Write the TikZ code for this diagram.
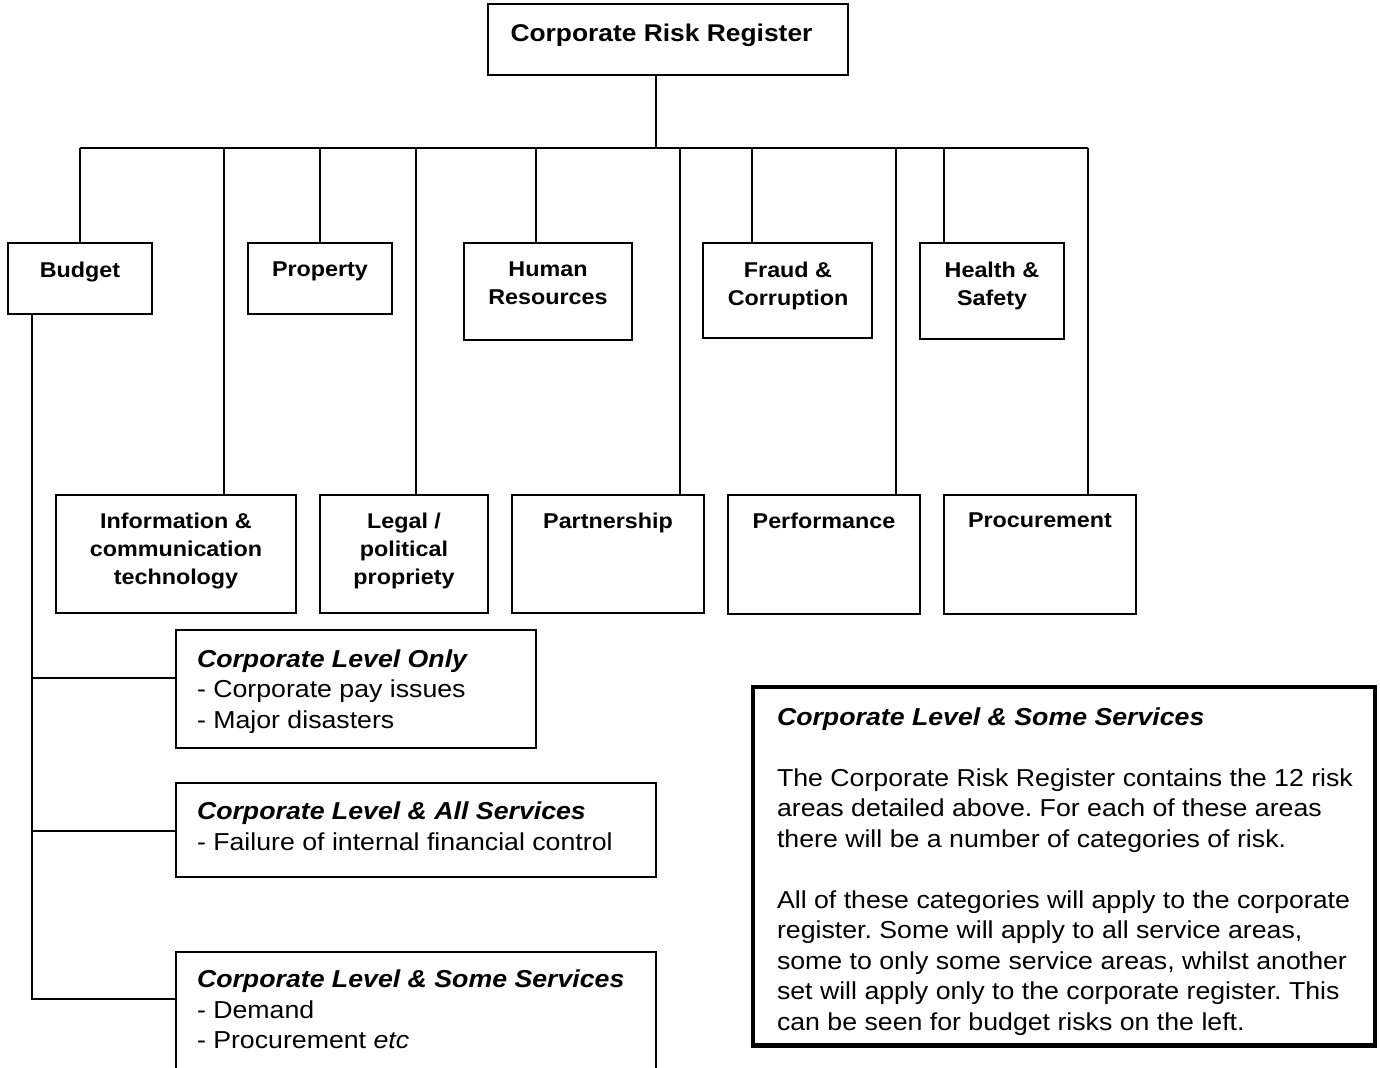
\documentclass[tikz,border=0pt]{standalone}
\usepackage{fontspec}
\setmainfont{Liberation Sans}[FakeStretch=1.09]
\usetikzlibrary{fit}
\frenchspacing

\begin{document}
\begin{tikzpicture}[x=0.5pt,y=-0.5pt,
  line width=1pt,
  box/.style={draw, rectangle, inner sep=0pt, line width=1pt},
  notebox/.style={draw, rectangle, inner sep=0pt, line width=2.2pt},
  lab/.style={font=\fontsize{10.7}{13.9}\selectfont\bfseries, align=center, inner sep=0pt, anchor=north},
  title/.style={font=\fontsize{12.1}{15}\selectfont\bfseries, inner sep=0pt, anchor=north},
  body/.style={font=\fontsize{12.25}{15.25}\selectfont, align=left, inner sep=0pt, anchor=north west},
  wire/.style={line width=1pt}]
\useasboundingbox (0,0) rectangle (1380,1067);
\clip (0,0) rectangle (1380,1067);

% top of the hierarchy
\node[box, fit={(488,4) (848,75)}] (crr) {};
\node[title] (crr-t) at (661.5,23.3) {Corporate Risk Register};

% first row of risk areas
\node[box, fit={(7.6,243.3) (151.8,314)}] (budget) {};
\node[box, fit={(247.8,243.3) (392,314)}] (property) {};
\node[box, fit={(463.8,243.3) (632,339.7)}] (hr) {};
\node[box, fit={(703.3,243.3) (872.3,337.7)}] (fraud) {};
\node[box, fit={(919.7,243.3) (1064.3,339.3)}] (health) {};

\node[lab] (budget-t)   at (80,261)  {Budget};
\node[lab] (property-t) at (320,261) {Property};
\node[lab] (hr-t)       at (548,261) {Human\\Resources};
\node[lab] (fraud-t)    at (788,261) {Fraud \&\\Corruption};
\node[lab] (health-t)   at (992,261) {Health \&\\Safety};

% second row of risk areas
\node[box, fit={(56,495) (296,613.3)}] (ict) {};
\node[box, fit={(320,495) (488,613.3)}] (legal) {};
\node[box, fit={(512,495) (704,613.3)}] (partner) {};
\node[box, fit={(727.7,495) (920,614)}] (perf) {};
\node[box, fit={(943.7,495) (1136,614)}] (proc) {};

\node[lab] (ict-t)     at (176,512)  {Information \&\\communication\\technology};
\node[lab] (legal-t)   at (404,512)  {Legal /\\political\\propriety};
\node[lab] (partner-t) at (608,512)  {Partnership};
\node[lab] (perf-t)    at (824,512)  {Performance};
\node[lab] (proc-t)    at (1040,512) {Procurement};

% bus and drops
\coordinate (top)  at (656,147.5);
\coordinate (b1)  at (80,147.5);
\coordinate (b2)  at (223.7,147.5);
\coordinate (b3)  at (319.6,147.5);
\coordinate (b4)  at (416,147.5);
\coordinate (b5)  at (535.7,147.5);
\coordinate (b6)  at (680,147.5);
\coordinate (b7)  at (752,147.5);
\coordinate (b8)  at (895.7,147.5);
\coordinate (b9)  at (944,147.5);
\coordinate (b10) at (1087.7,147.5);

\draw[wire] (top |- crr.south) -- (top);
\draw[wire] (b1) -- (b10);
\draw[wire] (b1) -- (b1 |- budget.north);
\draw[wire] (b2) -- (b2 |- ict.north);
\draw[wire] (b3) -- (b3 |- property.north);
\draw[wire] (b4) -- (b4 |- legal.north);
\draw[wire] (b5) -- (b5 |- hr.north);
\draw[wire] (b6) -- (b6 |- partner.north);
\draw[wire] (b7) -- (b7 |- fraud.north);
\draw[wire] (b8) -- (b8 |- perf.north);
\draw[wire] (b9) -- (b9 |- health.north);
\draw[wire] (b10) -- (b10 |- proc.north);

% budget risk categories
\node[box, fit={(175.5,630) (535.7,748.3)}] (cl1) {};
\node[box, fit={(175.5,783.3) (656,877.3)}] (cl2) {};
\node[box, fit={(175.5,951.7) (656,1100)}] (cl3) {};

\node[body] (cl1-t) at (196,648.3) {\textbf{\textit{Corporate Level Only}}\\- Corporate pay issues\\- Major disasters};
\node[body] (cl2-t) at (196,800.8) {\textbf{\textit{Corporate Level \& All Services}}\\- Failure of internal financial control};
\node[body] (cl3-t) at (196,969.2) {\textbf{\textit{Corporate Level \& Some Services}}\\- Demand\\- Procurement \textit{etc}};

\coordinate (trunk) at (32,999);
\coordinate (k1) at (32,677.7);
\coordinate (k2) at (32,830.7);
\draw[wire] (trunk |- budget.south) -- (trunk) -- (trunk -| cl3.west);
\draw[wire] (k1) -- (k1 -| cl1.west);
\draw[wire] (k2) -- (k2 -| cl2.west);

% explanatory note
\node[notebox, fit={(752.7,687) (1375,1045.3)}] (note) {};
\node[body] (note-t) at (776,706.3) {\textbf{\textit{Corporate Level \& Some Services}}\\[15.25pt]
The Corporate Risk Register contains the 12 risk\\
areas detailed above. For each of these areas\\
there will be a number of categories of risk.\\[15.25pt]
All of these categories will apply to the corporate\\
register. Some will apply to all service areas,\\
some to only some service areas, whilst another\\
set will apply only to the corporate register. This\\
can be seen for budget risks on the left.};
\end{tikzpicture}
\end{document}
